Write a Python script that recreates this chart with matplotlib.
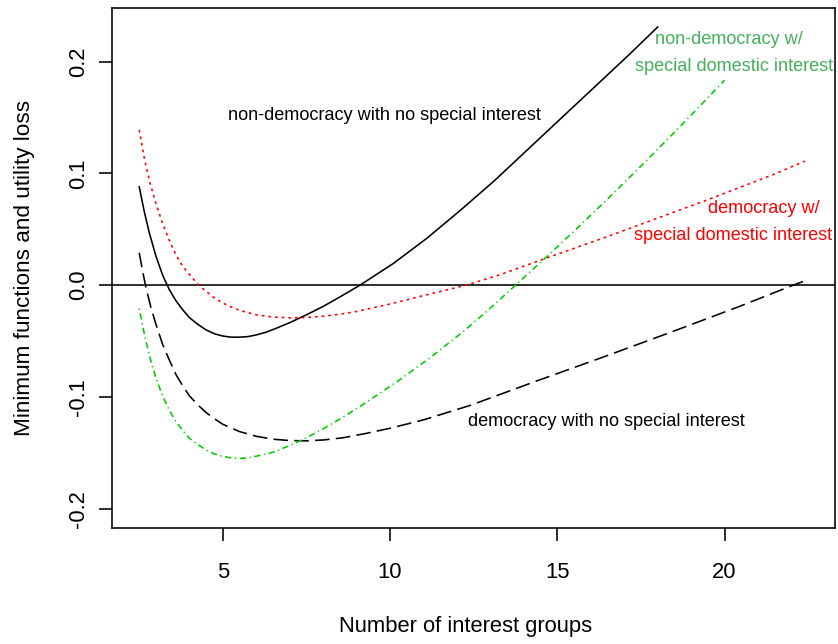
import matplotlib
matplotlib.use("Agg")
import matplotlib.pyplot as plt

plt.rcParams['font.family'] = ['Liberation Sans', 'DejaVu Sans']
plt.rcParams['lines.scale_dashes'] = False

# non-democracy, no special interest (solid black)
x_nondem_none = [2.5, 2.65, 2.8, 3.0, 3.2, 3.4, 3.6, 3.8, 4.0, 4.25, 4.5, 4.75, 5.0,
                 5.25, 5.5, 5.75, 6.0, 6.3, 6.6, 7.0, 7.5, 8.0, 8.5, 9.1, 10.1, 11.1,
                 12.1, 13.1, 14.1, 15.1, 16.1, 17.1, 18.0]
y_nondem_none = [0.088, 0.066, 0.047, 0.026, 0.009, -0.004, -0.014, -0.022, -0.029,
                 -0.035, -0.040, -0.0435, -0.0455, -0.0465, -0.0465, -0.046, -0.0445,
                 -0.042, -0.0385, -0.0335, -0.0265, -0.019, -0.0105, 0.0, 0.0195,
                 0.042, 0.067, 0.093, 0.121, 0.149, 0.177, 0.205, 0.231]

# democracy w/ special domestic interest (red dotted)
x_dem_special = [2.5, 2.65, 2.8, 3.0, 3.2, 3.4, 3.6, 3.8, 4.0, 4.28, 4.5, 4.75, 5.0,
                 5.25, 5.5, 6.0, 6.5, 7.0, 7.5, 8.0, 8.5, 9.0, 10.0, 11.0, 12.27,
                 13.3, 14.6, 15.5, 16.5, 17.5, 18.5, 19.5, 20.5, 21.5, 22.4]
y_dem_special = [0.139, 0.114, 0.094, 0.073, 0.055, 0.040, 0.027, 0.017, 0.0095, 0.0,
                 -0.0055, -0.0115, -0.016, -0.0195, -0.0225, -0.0265, -0.0285,
                 -0.0292, -0.0289, -0.0278, -0.026, -0.0235, -0.0168, -0.0093, 0.0,
                 0.0095, 0.0235, 0.033, 0.0435, 0.0545, 0.0655, 0.0765, 0.088,
                 0.0995, 0.111]

# democracy, no special interest (dashed black)
x_dem_none = [2.5, 2.6, 2.7, 2.85, 3.0, 3.2, 3.4, 3.6, 3.8, 4.0, 4.25, 4.5, 4.75, 5.0,
              5.5, 6.0, 6.5, 7.0, 7.5, 8.0, 8.6, 9.3, 10.0, 11.0, 12.4, 14.4, 16.4,
              18.4, 20.4, 22.05, 22.5]
y_dem_none = [0.029, 0.013, -0.002, -0.020, -0.035, -0.053, -0.067, -0.080, -0.090,
              -0.099, -0.107, -0.114, -0.1195, -0.1245, -0.131, -0.1352, -0.1378,
              -0.139, -0.1393, -0.1385, -0.1365, -0.1325, -0.128, -0.1205, -0.1075,
              -0.0855, -0.064, -0.042, -0.0195, 0.0, 0.005]

# non-democracy w/ special domestic interest (green dash-dot)
x_nondem_special = [2.5, 2.6, 2.7, 2.85, 3.0, 3.2, 3.4, 3.6, 3.8, 4.0, 4.25, 4.5, 4.75,
                    5.0, 5.25, 5.5, 5.75, 6.0, 6.5, 7.0, 7.5, 8.0, 8.6, 9.2, 10.2,
                    11.2, 12.2, 13.0, 13.75, 14.61, 15.5, 16.5, 17.5, 18.5, 19.25, 20.0]
y_nondem_special = [-0.021, -0.036, -0.050, -0.068, -0.083, -0.099, -0.112, -0.122,
                    -0.130, -0.137, -0.1425, -0.1475, -0.151, -0.1532, -0.1545, -0.155,
                    -0.1545, -0.153, -0.1495, -0.1435, -0.1365, -0.1285, -0.118,
                    -0.1065, -0.0865, -0.0648, -0.0412, -0.0205, 0.0, 0.0235, 0.0484,
                    0.0771, 0.1066, 0.1368, 0.1599, 0.1835]

x_ticks = [5, 10, 15, 20]
y_ticks = [-0.2, -0.1, 0.0, 0.1, 0.2]
y_tick_labels = ['-0.2', '-0.1', '0.0', '0.1', '0.2']

fig = plt.figure(figsize=(8.38, 6.44), dpi=100)
ax = fig.add_axes([0.1342, 0.1797, 0.8622, 0.8075])

lw = 1.15
ax.axhline(0, color='black', lw=lw)
ax.plot(x_nondem_none, y_nondem_none, color='black', lw=lw)
ax.plot(x_dem_special, y_dem_special, color='#ff0000', lw=lw, dashes=(2.0, 2.8))
ax.plot(x_dem_none, y_dem_none, color='black', lw=lw, dashes=(10.5, 4.5))
ax.plot(x_nondem_special, y_nondem_special, color='#00cc00', lw=lw,
        dashes=(0.9, 2.6, 4.5, 2.6))

ax.set_xlim(1.7, 23.3)
ax.set_ylim(-0.2175, 0.2478)

lab = 13.1
ax.text(9.83, 0.1514, 'non-democracy with no special interest', fontsize=lab,
        ha='center', va='center')
ax.text(16.47, -0.1224, 'democracy with no special interest', fontsize=lab,
        ha='center', va='center')
ax.text(20.14, 0.2194, 'non-democracy w/', fontsize=lab, color='#45b05a',
        ha='center', va='center')
ax.text(20.27, 0.1955, 'special domestic interest', fontsize=lab, color='#45b05a',
        ha='center', va='center')
ax.text(21.18, 0.0682, 'democracy w/', fontsize=lab, color='#ff0000',
        ha='center', va='center')
ax.text(20.24, 0.0449, 'special domestic interest', fontsize=lab, color='#ff0000',
        ha='center', va='center')

ax.set_xticks(x_ticks)
ax.set_xticklabels([str(t) for t in x_ticks])
ax.set_yticks(y_ticks)
ax.set_yticklabels(y_tick_labels, rotation=90, va='center')
ax.tick_params(axis='both', direction='out', length=9.4, width=lw,
               labelsize=15.8, colors='black')
ax.tick_params(axis='x', pad=15)
ax.tick_params(axis='y', pad=7.5)
for s in ax.spines.values():
    s.set_linewidth(lw)

ax.set_xlabel('Number of interest groups', fontsize=15.8, va='center')
ax.xaxis.set_label_coords(0.489, -0.188)
ax.set_ylabel('Minimum functions and utility loss', fontsize=16.2, va='center')
ax.yaxis.set_label_coords(-0.122, 0.5)

fig.savefig('out.png', dpi=100)
